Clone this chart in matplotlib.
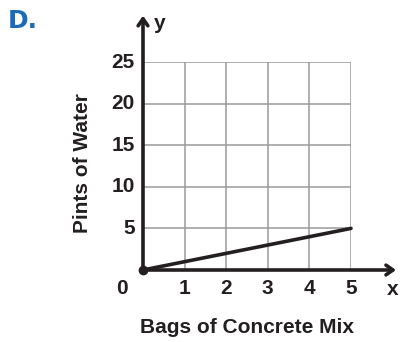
import matplotlib
matplotlib.use("Agg")
import matplotlib.pyplot as plt

bags = [0, 1, 2, 3, 4, 5]
pints = [0, 1, 2, 3, 4, 5]
x_ticks = [1, 2, 3, 4, 5]
y_ticks = [5, 10, 15, 20, 25]
x_label = "Bags of Concrete Mix"
y_label = "Pints of Water"
panel = "D."

W, H = 400, 342
fig = plt.figure(figsize=(W / 100, H / 100), dpi=100)
x0, x5 = 143, 351
y0, y25 = 270, 62
ax = fig.add_axes([x0 / W, 1 - y0 / H, (x5 - x0) / W, (y0 - y25) / H])
ax.set_xlim(0, 5)
ax.set_ylim(0, 25)
for s in ax.spines.values():
    s.set_visible(False)
ax.set_xticks([])
ax.set_yticks([])

grid_c = "#9a9a9a"
for v in x_ticks:
    ax.plot([v, v], [0, 25], color=grid_c, lw=1.1, zorder=1)
for v in y_ticks:
    ax.plot([0, 5], [v, v], color=grid_c, lw=1.1, zorder=1)

fp = dict(family=["Liberation Sans", "DejaVu Sans"], weight="bold")
ink = "#231f20"
ax.annotate("", xy=(0, 30.9), xytext=(0, 0), xycoords="data",
            arrowprops=dict(arrowstyle="->,head_length=0.5,head_width=0.35", lw=2.6, color=ink),
            annotation_clip=False, zorder=3)
ax.annotate("", xy=(6.15, 0), xytext=(0, 0), xycoords="data",
            arrowprops=dict(arrowstyle="->,head_length=0.5,head_width=0.35", lw=2.6, color=ink),
            annotation_clip=False, zorder=3)

ax.plot(bags, pints, color=ink, lw=2.6, zorder=4, solid_capstyle="round", clip_on=False)
ax.plot([0], [0], "o", color=ink, ms=6, zorder=5, clip_on=False)

fs = 15
for v in x_ticks:
    ax.text(v, -2.2, str(v), ha="center", va="center", fontsize=fs, color=ink, **fp)
ax.text(-0.5, -2.2, "0", ha="center", va="center", fontsize=fs, color=ink, **fp)
ax.text(6.0, -2.4, "x", ha="center", va="center", fontsize=fs, color=ink, **fp)
ax.text(0.4, 29.6, "y", ha="center", va="center", fontsize=fs, color=ink, **fp)
for v in y_ticks:
    ax.text(-0.2, v, str(v), ha="right", va="center", fontsize=fs, color=ink, **fp)

ax.text(2.5, -6.9, x_label, ha="center", va="center", fontsize=15, color=ink, **fp)
ax.text(-1.45, 12.8, y_label, ha="center", va="center", rotation=90, fontsize=15, color=ink, **fp)

fig.text(8 / W, 1 - 21 / H, panel, ha="left", va="center", fontsize=18, color="#1a6db4",
         family="DejaVu Sans", weight="bold")

fig.savefig("out.png", dpi=100)
